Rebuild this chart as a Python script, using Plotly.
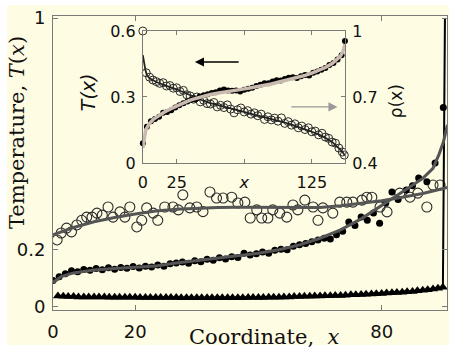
import plotly.graph_objects as go

# ---------------- main panel data ----------------
open_x = [1, 2, 3.3, 4.5, 5.8, 7, 8.2, 9.5, 10.7, 12, 13.4, 14.6, 16.3, 17.5, 18.7, 20.4, 21.6, 22.8,
          24.4, 25.5, 27.2, 29.2, 30.5, 31.6, 33.3, 35, 36.5, 38.2, 39.8, 41.4, 43.5, 45, 46.7, 48,
          49.6, 50.8, 52.3, 53.5, 55.2, 56.9, 58.4, 59.6, 61.3, 63.3, 64.5, 65.7, 68.1, 69.8, 71.5,
          73, 75.2, 76.4, 77.6, 79.6, 81.3, 84.4, 86.9, 88.8, 91, 92.5, 94.2]
open_y = [0.232, 0.256, 0.273, 0.26, 0.284, 0.30, 0.311, 0.311, 0.325, 0.318, 0.346, 0.311, 0.329,
          0.311, 0.346, 0.277, 0.30, 0.343, 0.325, 0.30, 0.346, 0.346, 0.336, 0.388, 0.343, 0.346,
          0.33, 0.398, 0.377, 0.377, 0.38, 0.36, 0.363, 0.308, 0.336, 0.308, 0.308, 0.336, 0.325,
          0.311, 0.353, 0.336, 0.37, 0.346, 0.30, 0.343, 0.325, 0.363, 0.363, 0.363, 0.37, 0.38,
          0.38, 0.346, 0.329, 0.394, 0.38, 0.394, 0.346, 0.422, 0.422]

fill_x = [0, 1.5, 3, 4.5, 6, 7.5, 9, 10.5, 12, 13.5, 15, 16.5, 18, 19.5, 21, 22.5, 24, 25.5, 27, 28.5,
          30, 31.5, 33, 34.5, 36, 37.5, 39, 40.5, 42, 43.5, 45, 46.5, 48, 49.5, 51, 52.5, 54, 55.5,
          57, 58.5, 60, 61.5, 63, 64.5, 66, 67.5, 69, 70.5, 72, 73.5, 75, 76.5, 78, 79.5, 81, 82.5,
          84, 86, 87.5, 89, 91, 93, 95]
fill_y = [0.092, 0.105, 0.115, 0.125, 0.122, 0.130, 0.127, 0.133, 0.129, 0.136, 0.131, 0.137, 0.134,
          0.140, 0.135, 0.141, 0.138, 0.145, 0.141, 0.150, 0.152, 0.156, 0.151, 0.160, 0.157, 0.165,
          0.162, 0.170, 0.166, 0.174, 0.171, 0.186, 0.180, 0.184, 0.190, 0.186, 0.196, 0.200, 0.198,
          0.210, 0.215, 0.220, 0.226, 0.232, 0.238, 0.235, 0.250, 0.262, 0.294, 0.282, 0.311, 0.300,
          0.325, 0.290, 0.360, 0.398, 0.372, 0.405, 0.420, 0.446, 0.433, 0.498, 0.69]

tri_x = [1.2, 2.5, 3.7, 5, 6.2, 7.5, 8.7, 10, 11.2, 12.5, 13.7, 15, 16.2, 17.5, 18.7, 20, 21.2, 22.5,
         23.7, 25, 26.2, 27.5, 28.7, 30, 31.2, 32.5, 33.7, 35, 36.2, 37.5, 38.7, 40, 41.2, 42.5, 43.7,
         45, 46.2, 47.5, 48.7, 50, 51.2, 52.5, 53.7, 55, 56.2, 57.5, 58.7, 60, 61.2, 62.5, 63.7, 65,
         66.2, 67.5, 68.7, 70, 71.2, 72.5, 73.7, 75, 76.2, 77.5, 78.7, 80, 81.2, 82.5, 83.7, 85, 86.2,
         87.5, 88.7, 90, 91.2, 92.5, 93.7, 94.9]
tri_y = [0.038, 0.037, 0.036, 0.036, 0.035, 0.035, 0.035, 0.035, 0.035, 0.035, 0.034, 0.034, 0.034,
         0.034, 0.034, 0.034, 0.033, 0.033, 0.033, 0.033, 0.033, 0.033, 0.033, 0.033, 0.032, 0.032,
         0.032, 0.032, 0.032, 0.032, 0.032, 0.032, 0.032, 0.032, 0.032, 0.032, 0.032, 0.033, 0.033,
         0.033, 0.033, 0.034, 0.034, 0.034, 0.035, 0.035, 0.036, 0.036, 0.037, 0.037, 0.038, 0.038,
         0.039, 0.039, 0.040, 0.040, 0.041, 0.042, 0.042, 0.043, 0.044, 0.045, 0.046, 0.047, 0.048,
         0.049, 0.050, 0.051, 0.053, 0.054, 0.056, 0.058, 0.060, 0.062, 0.065, 0.068]
jump_x = [95.4]
jump_y = [1.0]

fitO_x = [0, 5, 10, 15, 20, 25, 30, 35, 40, 45, 50, 55, 60, 65, 70, 75, 80, 85, 90, 95, 96]
fitO_y = [0.25, 0.275, 0.295, 0.31, 0.322, 0.332, 0.338, 0.342, 0.344, 0.345, 0.345, 0.344, 0.343,
          0.344, 0.35, 0.358, 0.368, 0.38, 0.393, 0.41, 0.414]
fitF_x = [0, 2, 5, 10, 15, 20, 25, 30, 35, 40, 45, 50, 55, 60, 65, 70, 75, 80, 85, 90, 92.5, 94, 95, 96]
fitF_y = [0.085, 0.105, 0.118, 0.128, 0.133, 0.137, 0.142, 0.152, 0.16, 0.168, 0.176, 0.186, 0.198,
          0.215, 0.238, 0.267, 0.305, 0.35, 0.398, 0.445, 0.48, 0.53, 0.57, 0.63]

# ---------------- inset data ----------------
inT_x = [0, 2.5, 5, 7.5, 10, 12.5, 15, 17.5, 20, 22.5, 25, 27.5, 30, 32.5, 35, 37.5, 40, 42.5, 45,
         47.5, 50, 52.5, 55, 57.5, 60, 62.5, 65, 67.5, 70, 72.5, 75, 77.5, 80, 82.5, 85, 87.5, 90,
         92.5, 95, 97.5, 100, 102.5, 105, 107.5, 110, 112.5, 115, 117.5, 120, 122.5, 125, 127.5,
         130, 132.5, 135, 137.5, 140, 142.5, 145, 147.5, 149]
inT_y = [0.60, 0.41, 0.39, 0.377, 0.37, 0.362, 0.365, 0.35, 0.352, 0.34, 0.342, 0.325, 0.33, 0.31,
         0.305, 0.29, 0.30, 0.278, 0.285, 0.27, 0.268, 0.275, 0.255, 0.262, 0.252, 0.264, 0.245,
         0.228, 0.242, 0.25, 0.232, 0.238, 0.222, 0.228, 0.215, 0.222, 0.198, 0.21, 0.196, 0.204,
         0.19, 0.205, 0.18, 0.188, 0.172, 0.178, 0.16, 0.168, 0.152, 0.16, 0.142, 0.145, 0.128,
         0.135, 0.118, 0.112, 0.095, 0.09, 0.068, 0.05, 0.036]
inTfit_x = [0, 1, 2, 3, 5, 10, 15, 20, 25, 30, 35, 40, 45, 50, 55, 60, 65, 70, 75, 80, 85, 90, 95,
            100, 105, 110, 115, 120, 125, 130, 135, 140, 144, 147, 149.5]
inTfit_y = [0.49, 0.45, 0.42, 0.40, 0.385, 0.368, 0.355, 0.345, 0.335, 0.322, 0.308, 0.294, 0.282,
            0.272, 0.264, 0.256, 0.248, 0.24, 0.234, 0.226, 0.218, 0.21, 0.2, 0.192, 0.184, 0.174,
            0.164, 0.154, 0.142, 0.13, 0.115, 0.096, 0.075, 0.055, 0.035]

inR_x = [0, 3, 6, 9, 12, 15, 18, 21, 24, 27, 30, 33, 36, 39, 42, 45, 48, 51, 54, 57, 60, 63, 66, 69,
         72, 75, 78, 81, 84, 87, 90, 93, 96, 99, 102, 105, 108, 111, 114, 117, 120, 123, 126, 129,
         132, 135, 138, 141, 144, 147, 149.5]
inR_y = [0.49, 0.565, 0.59, 0.60, 0.61, 0.628, 0.632, 0.64, 0.652, 0.662, 0.672, 0.68, 0.688, 0.69,
         0.702, 0.708, 0.712, 0.718, 0.722, 0.73, 0.734, 0.73, 0.728, 0.73, 0.725, 0.733, 0.738,
         0.742, 0.75, 0.756, 0.762, 0.762, 0.77, 0.776, 0.775, 0.782, 0.788, 0.79, 0.786, 0.794,
         0.80, 0.798, 0.81, 0.816, 0.824, 0.832, 0.845, 0.855, 0.87, 0.89, 0.955]
inRfit_x = [0, 1, 2, 3, 5, 8, 12, 16, 20, 25, 30, 35, 40, 45, 50, 55, 60, 65, 70, 75, 80, 85, 90, 95,
            100, 105, 110, 115, 120, 125, 130, 135, 140, 143, 146, 148, 149.5]
inRfit_y = [0.468, 0.52, 0.545, 0.56, 0.58, 0.60, 0.618, 0.632, 0.645, 0.66, 0.675, 0.686, 0.695,
            0.704, 0.711, 0.717, 0.723, 0.728, 0.732, 0.737, 0.742, 0.747, 0.753, 0.759, 0.767,
            0.774, 0.781, 0.789, 0.798, 0.808, 0.819, 0.834, 0.852, 0.866, 0.885, 0.905, 0.94]

main_xticks = [0, 20, 80]
main_yticks = [0, 0.2, 1]
inset_xticks = [0, 25, 75, 125]
inset_xlabels = ["0", "25", "<i>x</i>", "125"]
inset_yticksL = [0, 0.3, 0.6]
inset_yticksR = [0.4, 0.7, 1]

CREAM = "#FEFCE3"
AX = "#7a7a7a"
SANS = "DejaVu Sans"
SERIF = "DejaVu Serif"

fig = go.Figure()

# main panel
fig.add_trace(go.Scatter(x=open_x, y=open_y, mode="markers",
                         marker=dict(symbol="circle-open", size=10, color="#2a2a2a", line=dict(width=1.1)),
                         xaxis="x", yaxis="y"))
fig.add_trace(go.Scatter(x=fill_x, y=fill_y, mode="markers",
                         marker=dict(symbol="circle", size=7, color="black"), xaxis="x", yaxis="y"))
fig.add_trace(go.Scatter(x=tri_x + jump_x, y=tri_y + jump_y, mode="lines",
                         line=dict(color="black", width=2), xaxis="x", yaxis="y"))
fig.add_trace(go.Scatter(x=tri_x, y=tri_y, mode="markers",
                         marker=dict(symbol="triangle-up", size=9, color="black"), xaxis="x", yaxis="y"))
fig.add_trace(go.Scatter(x=fitO_x, y=fitO_y, mode="lines", line=dict(color="#555555", width=3),
                         xaxis="x", yaxis="y"))
fig.add_trace(go.Scatter(x=fitF_x, y=fitF_y, mode="lines", line=dict(color="#555555", width=3),
                         xaxis="x", yaxis="y"))

# inset
fig.add_trace(go.Scatter(x=inT_x, y=inT_y, mode="markers", cliponaxis=False,
                         marker=dict(symbol="circle-open", size=8, color="#2a2a2a", line=dict(width=1)),
                         xaxis="x2", yaxis="y2"))
fig.add_trace(go.Scatter(x=inTfit_x, y=inTfit_y, mode="lines", line=dict(color="#222222", width=1.8),
                         xaxis="x2", yaxis="y2"))
fig.add_trace(go.Scatter(x=inR_x, y=inR_y, mode="markers", cliponaxis=False,
                         marker=dict(symbol="circle", size=6, color="black"), xaxis="x2", yaxis="y3"))
fig.add_trace(go.Scatter(x=inRfit_x, y=inRfit_y, mode="lines", line=dict(color="#C9BAB0", width=3.5),
                         xaxis="x2", yaxis="y3"))

tickfont_main = dict(family=SANS, size=18, color="#111")
tickfont_in = dict(family=SANS, size=16, color="#111")

fig.update_layout(
    width=449, height=349,
    margin=dict(l=53, r=2, t=16, b=39),
    paper_bgcolor="white", plot_bgcolor=CREAM,
    showlegend=False,
    xaxis=dict(domain=[0, 1], range=[0, 95.9], tickvals=main_xticks, ticks="inside", ticklen=5,
               tickcolor=AX, showline=True, linecolor=AX, linewidth=1, mirror="ticks",
               showgrid=False, zeroline=False, tickfont=tickfont_main, ticklabelstandoff=5),
    yaxis=dict(domain=[0, 1], range=[-0.0104, 1.007], tickvals=main_yticks,
               ticktext=["0", "0.2", "1"], ticks="inside", ticklen=5,
               tickcolor=AX, showline=True, linecolor=AX, linewidth=1, mirror="ticks",
               showgrid=False, zeroline=False, tickfont=tickfont_main, ticklabelstandoff=3),
    xaxis2=dict(domain=[0.228, 0.741], range=[0, 149.5], anchor="y2", tickvals=inset_xticks,
                ticktext=inset_xlabels, ticks="inside", ticklen=4, tickcolor=AX,
                showline=True, linecolor=AX, mirror="ticks", showgrid=False, zeroline=False,
                tickfont=tickfont_in, ticklabelstandoff=5),
    yaxis2=dict(domain=[0.5, 0.949], range=[0, 0.6], anchor="x2", tickvals=inset_yticksL,
                ticktext=["0", "0.3", "0.6"], ticks="inside", ticklen=4, tickcolor=AX,
                showline=True, linecolor=AX, mirror=True, showgrid=False, zeroline=False,
                tickfont=tickfont_in, ticklabelstandoff=3),
    yaxis3=dict(range=[0.4, 1.0], overlaying="y2", side="right", anchor="x2", tickvals=inset_yticksR,
                ticktext=["0.4", "0.7", "1"], ticks="inside", ticklen=4, tickcolor=AX,
                showline=True, linecolor=AX, showgrid=False, zeroline=False,
                tickfont=tickfont_in, ticklabelstandoff=3),
    shapes=[dict(type="rect", xref="paper", yref="paper", x0=-0.1168, x1=1.01, y0=-0.119, y1=1.037,
                 fillcolor=CREAM, line=dict(width=0), layer="below")],
    annotations=[
        dict(xref="paper", yref="paper", x=-0.0914, y=0.605, text="Temperature, <i>T</i>(<i>x</i>)",
             textangle=-90, showarrow=False, font=dict(family=SERIF, size=21, color="#111"),
             xanchor="center", yanchor="middle"),
        dict(xref="paper", yref="paper", x=0.538, y=-0.092, text="Coordinate,\u00a0\u00a0<i>x</i>",
             showarrow=False, font=dict(family=SERIF, size=21, color="#111"),
             xanchor="center", yanchor="middle"),
        dict(xref="paper", yref="paper", x=0.089, y=0.741, text="<i>T(x)</i>", textangle=-90,
             showarrow=False, font=dict(family=SANS, size=19, color="#111"),
             xanchor="center", yanchor="middle"),
        dict(xref="paper", yref="paper", x=0.871, y=0.711, text="ρ(x)", textangle=-90,
             showarrow=False, font=dict(family=SANS, size=17, color="#111"),
             xanchor="center", yanchor="middle"),
        dict(xref="x2", yref="y2", x=38.5, y=0.459, ax=72, ay=0.459, axref="x2", ayref="y2",
             text="", showarrow=True, arrowhead=2, arrowsize=1.3, arrowwidth=1.4, arrowcolor="black"),
        dict(xref="x2", yref="y2", x=144, y=0.255, ax=108.7, ay=0.255, axref="x2", ayref="y2",
             text="", showarrow=True, arrowhead=2, arrowsize=1.3, arrowwidth=1.4, arrowcolor="#9a9a9a"),
    ],
)

fig.write_html("out.html", config={"displayModeBar": False},
               post_script="document.body.style.margin='0';document.body.style.padding='0';"
                           "document.body.style.overflow='hidden';")
